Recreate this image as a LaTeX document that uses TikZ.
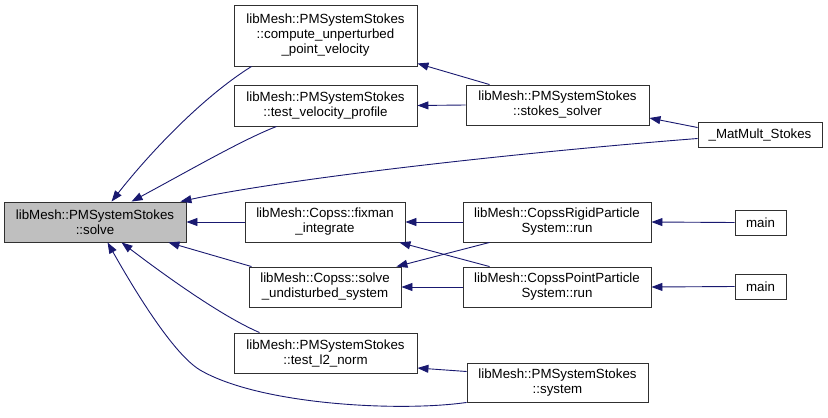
\documentclass[tikz,border=0pt]{standalone}
\usepackage{fontspec}
\setmainfont{Liberation Sans}
\usetikzlibrary{arrows.meta,calc}
\definecolor{edgeblue}{HTML}{191970}
\definecolor{boxgray}{HTML}{BFBFBF}
\definecolor{boxline}{HTML}{303030}
\begin{document}
\begin{tikzpicture}[x=1pt,y=-1pt,
  fnode/.style={draw=boxline, line width=0.9pt, fill=white, inner sep=0pt, align=center,
    font=\fontsize{13.3}{15}\selectfont, anchor=center},
  cedge/.style={draw=edgeblue, line width=0.9pt, -{Triangle[length=11pt,width=8pt]}}]
\useasboundingbox (0,0) rectangle (828,418);

% nodes
\node[fnode, fill=boxgray, minimum width=182pt, minimum height=40pt] (solve) at (95,222) {libMesh::PMSystemStokes\\::solve};
\node[fnode, minimum width=183pt, minimum height=61pt] (cup) at (325.5,35.5) {libMesh::PMSystemStokes\\::compute\_unperturbed\\\_point\_velocity};
\node[fnode, minimum width=183pt, minimum height=41pt] (tvp) at (325.5,105.5) {libMesh::PMSystemStokes\\::test\_velocity\_profile};
\node[fnode, minimum width=160pt, minimum height=40pt] (fix) at (325,222) {libMesh::Copss::fixman\\\_integrate};
\node[fnode, minimum width=152pt, minimum height=40pt] (und) at (325,287) {libMesh::Copss::solve\\\_undisturbed\_system};
\node[fnode, minimum width=183pt, minimum height=40pt] (ltwo) at (325.5,353) {libMesh::PMSystemStokes\\::test\_l2\_norm};
\node[fnode, minimum width=183pt, minimum height=40pt] (ss) at (557.5,105) {libMesh::PMSystemStokes\\::stokes\_solver};
\node[fnode, minimum width=124pt, minimum height=25pt] (mm) at (760,134.5) {\_MatMult\_Stokes};
\node[fnode, minimum width=188pt, minimum height=40pt] (rig) at (557,222) {libMesh::CopssRigidParticle\\System::run};
\node[fnode, minimum width=188pt, minimum height=40pt] (pt) at (557,287) {libMesh::CopssPointParticle\\System::run};
\node[fnode, minimum width=181pt, minimum height=39pt] (sys) at (557.5,382.5) {libMesh::PMSystemStokes\\::system};
\node[fnode, minimum width=51pt, minimum height=25pt] (mone) at (760.5,222.5) {main};
\node[fnode, minimum width=51pt, minimum height=25pt] (mtwo) at (760.5,286.5) {main};

% edges into solve
\draw[cedge] ($(cup.south west)+(18,0)$) .. controls (198,100) and (144,160) .. ($(solve.north west)+(108,0)$);
\draw[cedge] ($(tvp.south west)+(43,0)$) .. controls (242,140) and (192,169) .. ($(solve.north west)+(128,0)$);
\draw[cedge] ($(mm.west)+(0,4)$) .. controls (500,154) and (280,180) .. ($(solve.north east)+(-6,0)$);
\draw[cedge] (fix.west) -- (solve.east);
\draw[cedge] ($(und.north west)+(3,0)$) -- ($(solve.south east)+(-18,0)$);
\draw[cedge] ($(ltwo.north west)+(26,0)$) .. controls (221,316) and (163,274) .. ($(solve.south west)+(118,0)$);
\draw[cedge] (sys.south west) .. controls (400,412) and (260,405) .. (200,370)
  .. controls (170,352) and (126,275) .. ($(solve.south west)+(104,0)$);

% other edges
\draw[cedge] ($(ss.north west)+(24,0)$) -- ($(cup.south east)+(0,-3)$);
\draw[cedge] (ss.west) -- (tvp.east);
\draw[cedge] ($(mm.west)+(0,-7)$) -- ($(ss.east)+(0,13)$);
\draw[cedge] (rig.west) -- (fix.east);
\draw[cedge] ($(pt.north west)+(27,0)$) -- ($(fix.south east)+(-6,0)$);
\draw[cedge] ($(rig.south west)+(27,0)$) -- ($(und.north east)+(-5,0)$);
\draw[cedge] (pt.west) -- (und.east);
\draw[cedge] (mone.west) -- (rig.east);
\draw[cedge] (mtwo.west) -- (pt.east);
\draw[cedge] ($(sys.west)+(0,-11)$) -- ($(ltwo.east)+(0,15)$);
\end{tikzpicture}
\end{document}
